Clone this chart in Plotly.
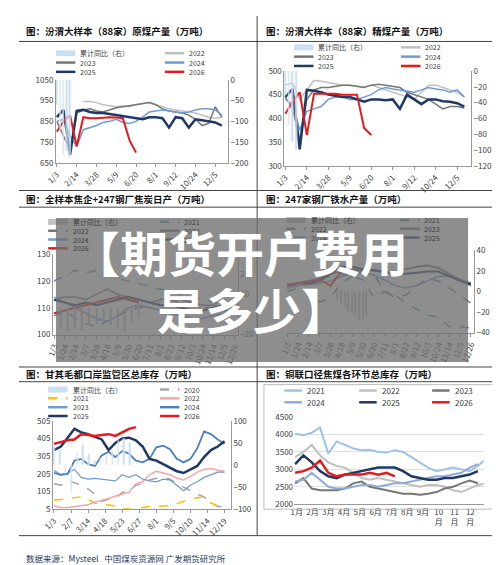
import plotly.graph_objects as go

W, H = 500, 565

# ---------------- data ----------------
# panel 1: raw coal output (every 14 days from 1/3)
p1_2022 = [None, None, None, None, 945, 945, 940, 930, 925, 920, 925, 920, 930, 935, 940, 930, 920, 910, 905, 900, 895, 890, 880, 870, 865, 870]
p1_2023 = [850, 780, 710, 890, 905, 910, 900, 895, 905, 915, 920, 925, 930, 935, 940, 930, 910, 900, 895, 890, 880, 860, 830, 840, 920, 870]
p1_2024 = [850, 860, 780, 730, 810, 820, 830, 845, 850, 860, 845, 840, 850, 870, 895, 900, 905, 900, 895, 890, 895, 905, 910, 910, 905, 880]
p1_2025 = [870, 905, 690, 900, 905, 895, 890, 890, 885, 880, 875, 870, 865, 860, 870, 870, 865, 820, 870, 865, 820, 860, 855, 850, 845, 830]
p1_2026 = [800, 850, 880, 730, 870, 865, 865, 868, 870, 868, 865, 760, 700]
p1_bar = [-60, -120, -180, -170, -185]

# panel 2: cleaned coal output
p2_2022 = [470, 475, 440, 460, 480, 478, 475, 472, 470, 470, 468, 466, 470, 465, 460, 455, 450, 445, 440, 455, 470, 470, 465, 460, 455, 445]
p2_2023 = [445, 420, 355, 440, 460, 465, 465, 468, 470, 470, 468, 465, 470, 472, 470, 468, 465, 455, 450, 445, 440, 430, 420, 425, 425, 422]
p2_2024 = [440, 430, 375, 415, 420, 425, 440, 445, 445, 440, 440, 445, 450, 460, 465, 462, 460, 458, 455, 460, 465, 462, 460, 455, 460, 445]
p2_2025 = [445, 462, 335, 460, 458, 455, 450, 448, 445, 445, 440, 435, 440, 440, 438, 440, 420, 450, 440, 430, 440, 440, 436, 435, 432, 425]
p2_2026 = [410, 435, 455, 365, 452, 452, 452, 452, 450, 450, 450, 380, 365]
p2_bar = [-30, -70, -90, -100]

# panel 3: coke daily output (every 21 days)
p3_2021 = [120, 122, 124, 123, 124, 122, 121, 120, 119, 118, 117, 116, 115, 114, 113, 112, 111, 110]
p3_2022 = [107, 109, 106, 104, 103, 105, 107, 109, 110, 111, 112, 113, 112, 111, 110, 110, 109, 108]
p3_2023 = [113, 114, 114, 113, 115, 117, 115, 114, 113, 112, 113, 114, 113, 112, 111, 111, 110, 110]
p3_2024 = [114, 112, 110, 108, 106, 105, 107, 110, 111, 110, 109, 108, 107, 106, 106, 107, 108, 108]
p3_2025 = [113, 112, 111, 112, 111, 112, 113, 114, 113, 112, 111, 111, 110, 109, 109, 110, 111, 111]
p3_2026 = [108, 109, 110, 111, 112, 113, 114, 113, 112]
p3_bar = [-15, -18, -16, -17, -14, -12, -10, -13, -15, -18, -12, -8]

# panel 4: hot metal output (every 21 days)
p4_2021 = [215, 218, 222, 226, 228, 230, 228, 225, 210, 215, 212, 205, 200, 195, 193, 185, 185, 184]
p4_2022 = [218, 220, 215, 206, 210, 222, 228, 232, 230, 215, 210, 212, 220, 226, 224, 218, 212, 205]
p4_2023 = [220, 222, 224, 226, 230, 232, 234, 232, 233, 231, 232, 234, 236, 237, 235, 230, 225, 222]
p4_2024 = [218, 220, 221, 222, 224, 228, 230, 231, 229, 225, 220, 218, 220, 224, 228, 228, 224, 220]
p4_2025 = [220, 222, 222, 224, 230, 236, 236, 234, 233, 232, 230, 230, 231, 232, 232, 228, 224, 221]
p4_2026 = [221, 222, 223, 225, 220, 232]
p4_bar = [-10, -12, -15, -20, -22, -25, -28, -26, -24]

# panel 5: Ganqimaodu port inventory (every 14 days)
p5_2020 = [150, 140, 165, 155, 140, 120, 90, 50, 60, 70, 100, 110, 140, 150, 170, 180, 185, 175, 150, 130, 110, 90, 75, 40, 20, 20]
p5_2021 = [55, 60, 65, 70, 75, 60, 40, 25, 30, 20, 10, 5, 5, 15, 20, 20, 22, 25, 35, 50, 60, 70, 75, 40, 25, 20]
p5_2022 = [25, 15, 15, 20, 25, 30, 45, 55, 65, 80, 90, 100, 150, 160, 200, 220, 210, 200, 180, 170, 190, 215, 230, 235, 225, 220]
p5_2023 = [225, 200, 210, 230, 185, 175, 180, 175, 170, 165, 200, 185, 200, 175, 165, 160, 175, 170, 140, 110, 140, 160, 185, 200, 215, 215]
p5_2024 = [210, 200, 205, 280, 290, 260, 250, 310, 330, 300, 335, 320, 280, 270, 290, 355, 365, 345, 290, 270, 290, 350, 445, 430, 400, 375]
p5_2025 = [340, 360, 410, 460, 440, 430, 415, 400, 340, 380, 405, 410, 395, 360, 290, 280, 260, 240, 220, 210, 230, 250, 300, 340, 360, 390]
p5_2026 = [375, 385, 395, 400, 430, 425, 420, 425, 430, 420, 440, 460, 470]
p5_bar = [40, 35, -20, -60, 30, 45, 25, 10, 15, 20, 30, 55, 60, 50]

# panel 6: coking coal total inventory (every 16 days)
p6_2021 = [4020, 3980, 4050, 4200, 3450, 3800, 3700, 3600, 3550, 3560, 3500, 3480, 3550, 3500, 3350, 3200, 3050, 2950, 3000, 3050, 3000, 2950, 3100, 3300]
p6_2022 = [3350, 3500, 3700, 3400, 3200, 3100, 3050, 2900, 2750, 2700, 2750, 2700, 2650, 2600, 2550, 2500, 2550, 2550, 2500, 2400, 2350, 2450, 2550, 2600]
p6_2023 = [2600, 2750, 2450, 2400, 2400, 2400, 2450, 2600, 2650, 2500, 2450, 2400, 2350, 2300, 2300, 2270, 2300, 2350, 2450, 2500, 2600, 2680, 2600]
p6_2024 = [2650, 2700, 2900, 2700, 2500, 2450, 2450, 2500, 2550, 2550, 2500, 2550, 2600, 2600, 2650, 2700, 2750, 2800, 2800, 2850, 2900, 3050, 3150]
p6_2025 = [3150, 3400, 3200, 2950, 2800, 2750, 2850, 2900, 2950, 3000, 3050, 3050, 3050, 2950, 2800, 2750, 2700, 2700, 2750, 2750, 2800, 2850, 2950]
p6_2026 = [2900, 2950, 3050, 3250, 2900, 2800, 2850, 2850, 2850, 2900, 2850, 2900, 2800]

ticks_42 = ["1/3", "2/14", "3/28", "5/9", "6/20", "8/1", "9/12", "10/24", "12/5"]
ticks_21 = ["1/3", "1/24", "2/14", "3/7", "3/28", "4/18", "5/9", "5/30", "6/20", "7/11", "8/1",
            "8/22", "9/12", "10/3", "10/24", "11/14", "12/5", "12/26"]
ticks_35 = ["1/3", "2/7", "3/14", "4/18", "5/23", "6/27", "8/1", "9/5", "10/10", "11/14", "12/19"]
months = ["1月", "2月", "3月", "4月", "5月", "6月", "7月", "8月", "9月", "10<br>月", "11<br>月", "12<br>月"]

C21, C22, C23, C24, C25, C26 = "#9dc3e6", "#bfbfbf", "#767676", "#6f9bd1", "#203864", "#e41a1c"
BAR = "rgba(189,215,238,0.8)"

fig = go.Figure()
layout = {}
FONT = "Noto Sans CJK SC"


def dom(x0, x1, y0, y1):
    return [x0 / W, x1 / W], [1 - y1 / H, 1 - y0 / H]


def xs(n, start, step):
    return [start + step * i for i in range(n)]


def panel(k, box, lrange, ldtick, rrange, rdtick, tickvals, ticktext, angle=-45, showleft=True):
    xd, yd = dom(*box)
    ax = dict(domain=xd, anchor="y%d" % (2 * k - 1), range=[0, 365], tickvals=tickvals, ticktext=ticktext,
              tickangle=angle, tickfont=dict(size=8, color="#404040"), showline=True, linecolor="#999",
              ticks="outside", ticklen=3, tickcolor="#999", showgrid=False, zeroline=False)
    ly = dict(domain=yd, anchor="x%d" % k, range=lrange, dtick=ldtick, tick0=lrange[0], showgrid=False,
              zeroline=False, tickfont=dict(size=8, color="#404040"), showline=showleft, linecolor="#999",
              showticklabels=showleft, tickmode="linear")
    layout["xaxis%d" % k] = ax
    layout["yaxis%d" % (2 * k - 1)] = ly
    if rrange is not None:
        layout["yaxis%d" % (2 * k)] = dict(domain=yd, anchor="x%d" % k, overlaying="y%d" % (2 * k - 1),
                                            side="right", range=rrange, dtick=rdtick, tick0=rrange[0],
                                            tickmode="linear", showgrid=False,
                                            zeroline=False, showline=True, linecolor="#999",
                                            tickfont=dict(size=8, color="#404040"))


def line(k, x, y, color, width=2, dash="solid"):
    fig.add_trace(go.Scatter(x=x, y=y, mode="lines", line=dict(color=color, width=width, dash=dash),
                             xaxis="x%d" % k, yaxis="y%d" % (2 * k - 1), showlegend=False, connectgaps=False))


def bars(k, x, y, color=BAR, width=3):
    fig.add_trace(go.Bar(x=x, y=y, marker_color=color, width=width, xaxis="x%d" % k,
                         yaxis="y%d" % (2 * k), showlegend=False))


# panel 1
panel(1, (38, 215, 67, 152), [650, 1050], 100, [-200, 0], 50, xs(9, 2, 42), ticks_42)
bars(1, xs(5, 2, 7), p1_bar)
for d, c, w in [(p1_2022, C22, 1.5), (p1_2023, C23, 1.5), (p1_2024, C24, 1.5), (p1_2025, C25, 2.5), (p1_2026, C26, 2)]:
    line(1, xs(len(d), 2, 14), d, c, w)

# panel 2
panel(2, (273, 465, 58, 155), [300, 500], 50, [-120, 0], 20, xs(9, 2, 42), ticks_42)
bars(2, xs(4, 2, 7), p2_bar)
for d, c, w in [(p2_2022, C22, 1.5), (p2_2023, C23, 1.5), (p2_2024, C24, 1.5), (p2_2025, C25, 2.5), (p2_2026, C26, 2)]:
    line(2, xs(len(d), 2, 14), d, c, w)

# panel 3
panel(3, (35, 225, 245, 327), [100, 130], 10, [-20, 40], 15, xs(18, 2, 21), ticks_21, angle=-70)
bars(3, xs(len(p3_bar), 16, 14), p3_bar, color="rgba(150,150,150,0.7)", width=4)
for d, c, w, ds in [(p3_2021, "#5b9aa9", 1.5, "dash"), (p3_2022, C23, 1.5, "dash"), (p3_2023, C23, 1.5, "solid"),
                    (p3_2024, C24, 1.5, "solid"), (p3_2025, C25, 2, "solid"), (p3_2026, C26, 2, "solid")]:
    line(3, xs(len(d), 2, 21), d, c, w, ds)

# panel 4
panel(4, (275, 468, 241, 325), [180, 250], 10, [-40, 40], 20, xs(18, 2, 21), ticks_21, angle=-70, showleft=False)
bars(4, xs(len(p4_bar), 100, 7), p4_bar, color="rgba(150,150,150,0.7)", width=4)
for d, c, w, ds in [(p4_2021, "#5b9aa9", 1.5, "dash"), (p4_2022, C23, 1.5, "dash"), (p4_2023, C23, 2, "solid"),
                    (p4_2024, C24, 1.5, "solid"), (p4_2025, C25, 2, "solid"), (p4_2026, C26, 2, "solid")]:
    line(4, xs(len(d), 2, 21), d, c, w, ds)

# panel 5
panel(5, (35, 218, 415, 505), [5, 505], 100, [-100, 100], 50, xs(11, 2, 35), ticks_35)
bars(5, xs(len(p5_bar), 2, 12), p5_bar)
for d, c, w, ds in [(p5_2020, "#a6a6a6", 1.5, "dash"), (p5_2021, "#ffc000", 1.5, "dash"), (p5_2022, "#f4a6a6", 1.5, "solid"),
                    (p5_2023, C24, 1.2, "solid"), (p5_2024, "#4a7fc1", 1.8, "solid"), (p5_2025, C25, 2.5, "solid"),
                    (p5_2026, C26, 2.5, "solid")]:
    line(5, xs(len(d), 2, 14), d, c, w, ds)

# panel 6
panel(6, (283, 478, 411, 500), [2000, 4500], 500, None, None, xs(12, 5, 30.4), months, angle=0)
layout["yaxis11"]["showgrid"] = True
layout["yaxis11"]["gridcolor"] = "#e0e0e0"
layout["yaxis11"]["showline"] = False
layout["xaxis6"]["ticks"] = ""
for d, c, w in [(p6_2021, C21, 2), (p6_2022, C22, 2), (p6_2023, C23, 2), (p6_2024, "#8faadc", 2),
                (p6_2025, C25, 2.5), (p6_2026, C26, 2.5)]:
    line(6, xs(len(d), 2, 16), d, c, w)

# ---------------- decorations ----------------
shapes, annos = [], []


def px(x):
    return x / W


def py(y):
    return 1 - y / H


def hline(y, x0=0, x1=W, color="#333", width=1):
    shapes.append(dict(type="line", xref="paper", yref="paper", x0=px(x0), x1=px(x1), y0=py(y), y1=py(y),
                       line=dict(color=color, width=width)))


def text(x, y, s, size=7, color="#404040", bold=False, anchor="left"):
    annos.append(dict(xref="paper", yref="paper", x=px(x), y=py(y), text="<b>%s</b>" % s if bold else s,
                      showarrow=False, xanchor=anchor, yanchor="middle",
                      font=dict(size=size, color=color, family=FONT)))


def legend(entries, cols, y0, dy, sw=20):
    for i, (name, color, kind) in enumerate(entries):
        x = cols[i % len(cols)]
        y = y0 + dy * (i // len(cols))
        if kind == "bar":
            shapes.append(dict(type="rect", xref="paper", yref="paper", x0=px(x), x1=px(x + sw),
                               y0=py(y + 3), y1=py(y - 3), fillcolor=color, line_width=0))
        else:
            shapes.append(dict(type="line", xref="paper", yref="paper", x0=px(x), x1=px(x + sw), y0=py(y), y1=py(y),
                               line=dict(color=color, width=2.5, dash=kind)))
        text(x + sw + 3, y, name)


for y in [28, 197, 375]:
    hline(y, 0, W, "#444", 1)
for y in [180, 360, 532]:
    hline(y, 0, W, "#444", 1)
shapes.append(dict(type="line", xref="paper", yref="paper", x0=px(245), x1=px(245), y0=py(2), y1=py(532),
                   line=dict(color="#444", width=1)))
shapes.append(dict(type="rect", xref="paper", yref="paper", x0=px(252), x1=px(494), y0=py(378), y1=py(505),
                   line=dict(color="#bbb", width=1)))

text(5, 17, "图：汾渭大样本（88家）原煤产量（万吨）", 9.5, "#111", True)
text(252, 17, "图：汾渭大样本（88家）精煤产量（万吨）", 9.5, "#111", True)
text(5, 189, "图：全样本焦企+247钢厂焦炭日产（万吨）", 9.5, "#111", True)
text(252, 189, "图：247家钢厂铁水产量（万吨）", 9.5, "#111", True)
text(5, 367, "图：甘其毛都口岸监管区总库存（万吨）", 9.5, "#111", True)
text(252, 367, "图：铜联口径焦煤各环节总库存（万吨）", 9.5, "#111", True)

legend([("累计同比（右）", BAR, "bar"), ("2022", C22, "solid"), ("2023", C23, "solid"), ("2024", C24, "solid"),
        ("2025", C25, "solid"), ("2026", C26, "solid")], [38, 150], 40, 9.5)
legend([("累计同比（右）", BAR, "bar"), ("2022", C22, "solid"), ("2023", C23, "solid"), ("2024", C24, "solid"),
        ("2025", C25, "solid"), ("2026", C26, "solid")], [283, 393], 34, 9.5)
legend([("累计同比（右）", "rgba(150,150,150,0.6)", "bar"), ("2021", "#5b9aa9", "dash"), ("2022", C23, "dash"),
        ("2023", C23, "solid"), ("2024", C24, "solid"), ("2025", C25, "solid"), ("2026", C26, "solid")],
       [30, 145], 212, 9)
legend([("累计同比（右）", "rgba(150,150,150,0.6)", "bar"), ("2021", "#5b9aa9", "dash"), ("2022", C23, "dash"),
        ("2023", C23, "solid"), ("2024", C24, "solid"), ("2025", C25, "solid")], [275, 392], 210, 9)
legend([("累计同比（右）", BAR, "bar"), ("2020", "#a6a6a6", "dash"), ("2021", "#ffc000", "dash"),
        ("2022", "#f4a6a6", "solid"), ("2023", C24, "solid"), ("2024", "#4a7fc1", "solid"),
        ("2025", C25, "solid"), ("2026", C26, "solid")], [30, 145], 383, 9)
legend([("2021", C21, "solid"), ("2022", C22, "solid"), ("2023", C23, "solid"), ("2024", "#8faadc", "solid"),
        ("2025", C25, "solid"), ("2026", C26, "solid")], [273, 350, 425], 384, 12, sw=18)
for a in annos[-6:]:
    a["font"]["size"] = 8

text(5, 555, "数据来源：Mysteel   中国煤炭资源网 广发期货研究所", 8.5, "#1f3864")

# grey overlay banner with big text
shapes.append(dict(type="rect", xref="paper", yref="paper", x0=px(38), x1=px(462), y0=py(208), y1=py(355),
                   fillcolor="rgba(110,110,110,0.78)", line_width=0, layer="above"))
text(52, 242, "【期货开户费用", 48, "white", True)
text(140, 300, "是多少】", 48, "white", True)

layout.update(width=W, height=H, margin=dict(l=0, r=0, t=0, b=0), plot_bgcolor="white", paper_bgcolor="white",
              shapes=shapes, annotations=annos, bargap=0, font=dict(family=FONT))
fig.update_layout(**layout)
fig.write_html("out.html")
